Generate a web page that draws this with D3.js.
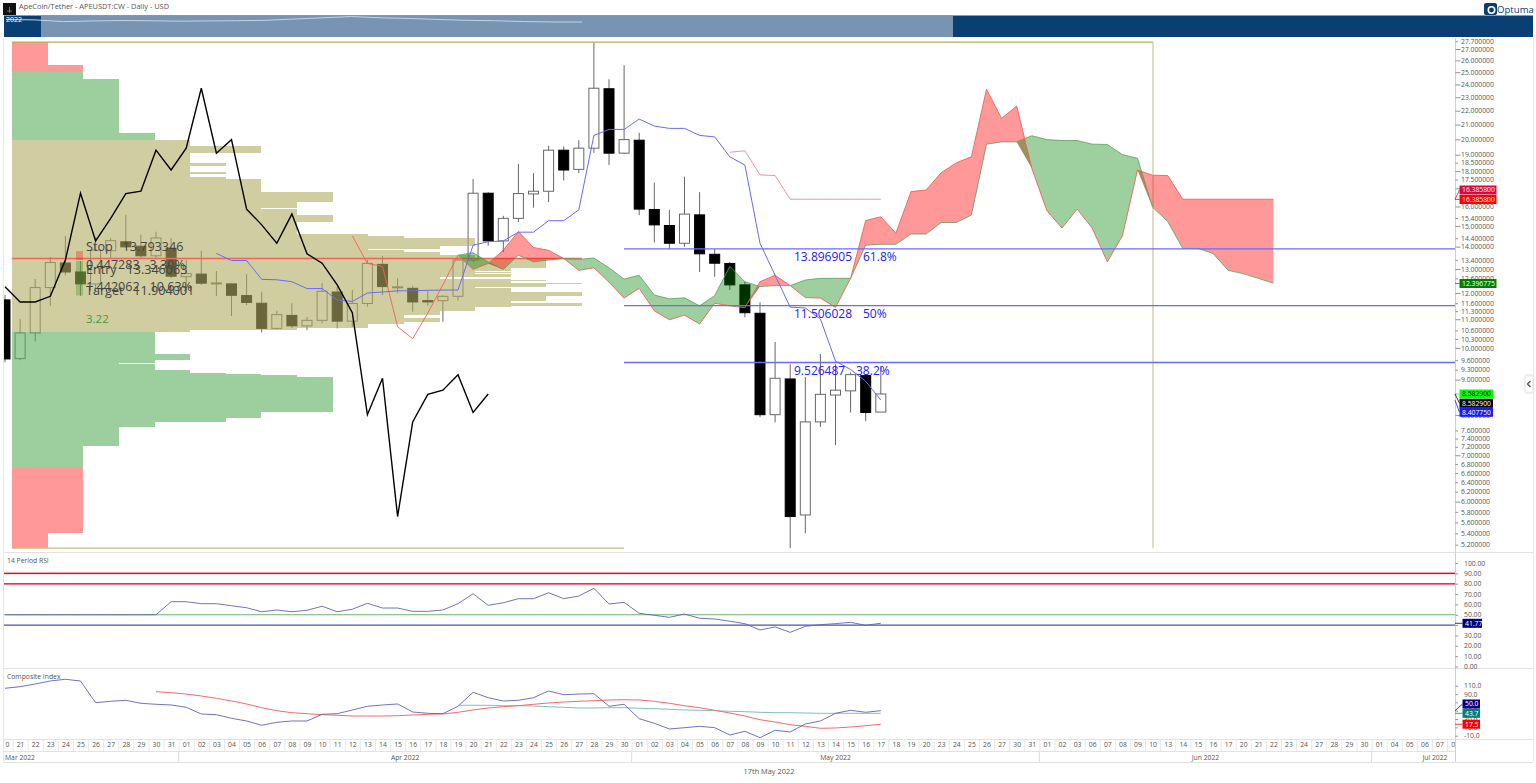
<!DOCTYPE html>
<html>
<head>
<meta charset="utf-8">
<script src="https://cdnjs.cloudflare.com/ajax/libs/d3/7.8.5/d3.min.js"></script>
<style>
  html, body { margin: 0; padding: 0; background: #fff; overflow: hidden; }
  text { font-family: "Open Sans", sans-serif; }
</style>
</head>
<body>
<div id="chart"></div>
<script>
// daily axis, weekends drop out after the last real bar (17 May)
let dateLabels = ["20","21","22","23","24","25","26","27","28","29","30","31",
  "01","02","03","04","05","06","07","08","09","10","11","12","13","14","15","16","17","18","19","20","21","22","23","24","25","26","27","28","29","30",
  "01","02","03","04","05","06","07","08","09","10","11","12","13","14","15","16","17","18","19","20","23","24","25","26","27","30","31",
  "01","02","03","06","07","08","09","10","13","14","15","16","17","20","21","22","23","24","27","28","29","30",
  "01","04","05","06","07","08"];
let monthLabels = ["Mar 2022", "Apr 2022", "May 2022", "Jun 2022", "Jul 2022"];
let monthLabelPos = [0, 26.5, 55, 79.5, 94.7];
let monthStarts = [11.5, 41.5, 68.5, 90.5];

let candleOpen = [11.73,9.65,10.51,12.22,13.26,12.87,12.37,13.81,14.23,14.02,13.58,13.93,12.67,12.78,12.38,12.37,11.90,11.60,10.67,11.14,10.76,10.96,12.04,10.93,11.59,13.20,12.22,12.19,11.70,11.70,11.87,13.39,16.72,14.27,15.38,16.68,16.83,19.29,18.10,19.42,23.66,19.10,19.94,15.84,15.02,14.16,15.56,13.65,13.24,12.33,11.22,8.01,9.02,5.74,7.82,8.55,8.67,9.12,8.08];
let candleHigh = [11.92,11.00,12.57,13.52,14.51,13.34,14.46,14.41,15.56,14.56,14.71,14.41,13.39,13.81,12.91,12.40,12.78,12.05,11.31,11.60,11.08,12.40,12.25,12.12,13.39,13.57,12.60,12.29,12.09,11.92,13.52,17.53,16.78,15.51,18.42,17.87,19.57,19.53,19.94,27.57,24.42,25.58,20.43,17.32,15.82,17.67,16.78,13.89,13.31,12.46,11.64,10.20,9.47,9.08,9.80,9.47,9.22,9.14,9.42];
let candleLow = [9.53,9.60,10.22,11.50,12.73,11.88,12.04,13.48,13.95,13.48,13.48,12.61,12.00,12.33,11.88,11.12,11.53,10.53,10.63,10.68,10.61,10.85,10.67,10.73,11.47,11.92,11.99,11.28,11.50,10.91,11.70,13.30,14.04,13.76,15.19,15.94,16.23,17.44,17.87,19.12,18.36,19.06,15.55,14.20,13.90,13.99,12.87,12.67,12.12,11.07,7.94,7.81,5.14,5.40,7.69,7.24,8.07,7.84,8.08];
let candleClose = [9.64,10.51,12.22,13.28,12.87,12.37,13.84,14.28,13.99,13.58,14.41,12.69,12.80,12.40,12.41,11.91,11.63,10.67,11.17,10.76,10.96,12.07,10.93,11.59,13.24,12.26,12.25,11.65,11.65,11.87,13.39,16.72,14.27,15.38,16.70,16.83,19.29,18.06,19.42,23.70,19.10,19.98,15.86,15.05,14.16,15.60,13.67,13.25,12.33,11.24,8.01,9.04,5.71,7.82,8.57,8.69,9.15,8.07,8.58];

// ichimoku, each list says which bar it starts on
let laggingStart = 0;
let laggingLine = [12.25,11.65,11.65,11.87,13.39,16.72,14.27,15.38,16.70,16.83,19.29,18.06,19.42,23.70,19.10,19.98,15.86,15.05,14.16,15.60,13.67,13.25,12.33,11.24,8.01,9.04,5.71,7.82,8.57,8.69,9.15,8.07,8.58];
let baseStart = 14;
let baseLine = [13.69,13.37,13.37,12.56,12.54,12.46,12.18,12.18,11.73,11.67,12.00,12.04,12.09,12.09,12.11,12.12,12.12,14.07,14.23,14.27,14.69,14.69,15.26,15.26,15.82,20.26,20.67,20.67,21.39,20.90,20.74,20.74,20.26,20.16,18.87,18.36,14.16,12.73,11.45,11.42,11.01,9.57,9.31,8.95,8.41];
let leadInStart = 23;
let leadInLine = [14.51,13.24,13.11,10.73,10.31,11.23,12.33,13.61];
let paleStart = 48;
let paleLine = [19.16,19.25,17.77,17.73,16.39,16.39,16.39,16.39,16.39,16.39,16.39];
let cloudStart = 30;
let spanA = [13.61,13.72,13.31,12.98,13.61,13.31,13.39,13.46,13.42,13.48,13.05,12.57,12.73,11.92,11.77,11.81,11.50,11.90,13.11,12.46,12.26,12.30,12.30,12.53,12.60,12.60,12.60,14.07,14.11,14.11,14.60,14.60,15.17,15.17,15.55,19.68,19.83,19.83,20.24,19.98,19.92,19.92,19.68,19.66,19.01,18.78,15.96,15.22,13.92,13.92,13.69,12.94,12.80,12.60,12.40];
let spanB = [13.61,12.98,13.24,13.84,14.72,13.96,13.83,13.46,12.94,13.05,12.44,11.80,12.19,11.31,10.98,11.15,10.83,11.60,11.50,11.43,12.46,12.73,12.30,11.82,11.80,11.44,12.60,15.27,15.46,14.64,16.81,16.90,17.90,18.50,18.87,23.62,21.44,22.34,18.16,15.78,14.89,15.86,14.89,13.31,14.51,18.06,17.75,17.73,16.39,16.39,16.39,16.39,16.39,16.39,16.39];

// volume profile: row edges from the top down, then bars per row and the zone of the row
let profileEdges = [27.63,25.58,25,24.44,20.43,19.94,19.59,19.12,18.47,18.32,17.96,17.84,17.67,17.53,17.42,16.81,16.23,15.91,15.84,15.56,15.19,14.60,14.51,14.41,14.04,13.89,13.83,13.75,13.61,13.46,13.04,12.90,12.86,12.81,12.77,12.65,12.57,12.52,12.49,12.41,12.36,12.26,12.20,12.05,12.03,11.87,11.69,11.62,11.50,11.47,11.32,11.26,11.15,11.03,10.91,10.82,10.70,10.68,10.62,10.54,10.53,9.81,9.60,9.51,9.48,9.29,9.21,9.17,9.14,9.09,8.07,7.92,7.82,7.68,7.22,6.71,5.40,5.14];
let profileCounts = [1,2,2,3,4,5,7,5,6,5,6,5,6,7,7,9,8,7,8,9,8,10,11,13,12,10,11,12,13,15,14,13,14,13,14,12,14,15,14,16,15,13,14,15,16,15,14,16,14,13,12,12,11,12,11,10,9,8,5,4,4,5,4,3,4,5,6,7,8,9,7,6,4,3,2,2,1];
let profileZones = ["r","r","g","g","g"].concat(Array(55).fill("t"), Array(15).fill("g"), ["r","r"]);
let pocPrice = 13.46;

let fibValues = [13.896905, 11.506028, 9.526487];
let fibLabels = ["13.896905", "11.506028", "9.526487"];
let fibPercents = ["61.8%", "50%", "38.2%"];
let stopPrice = 13.793346, entryPrice = 13.346063, targetPrice = 11.904001;

let priceTicks = [27.7,27,26,25,24,23,22,21,20,19,18.5,18,17.5,17,16,15.4,15,14.4,14,13.4,13,12.6,12,11.6,11.3,11,10.6,10.3,10,9.6,9.3,9,8,7.6,7.4,7.2,7,6.8,6.6,6.4,6.2,6,5.8,5.6,5.4,5.2];
let priceTags = [16.3858, 16.3858, 12.396775, 8.5829, 8.5829, 8.40775];
let priceTagText = ["16.385800", "16.385800", "12.396775", "8.582900", "8.582900", "8.407750"];

let rsiStart = 0;
let rsiValues = [50,50,50,50,50,50,50,50,50,50,50,62.6,62.6,60.7,60.7,58.7,56.8,52.9,54.6,52.9,54.3,58.2,52.9,55.3,61.1,56.5,56.5,53.3,53.3,54.6,60.7,70.3,59.1,61.6,65.5,65.5,71.3,65.5,68.1,75.6,60.4,62,51.4,49.5,47.5,50.7,46.6,45.9,43.7,41.4,35.3,38.2,33,38.8,40.4,41.4,42.7,39.8,41.77];
let rsiLevels = [90, 80, 50, 40];
let rsiTicks = [100,90,80,70,60,50,40,30,20,10,0];

let compositeValues = [103.8,107.6,114.1,121.3,125.4,121.3,69.2,72.6,75,67.8,65.4,63.7,58.2,42.1,40.4,31.8,25.3,15,22.2,25.3,25.3,41.4,42.8,51.7,60.6,63.7,66.1,46.9,43.8,42.8,60.6,94.2,81.2,73.3,75,81.2,97.3,88.4,90,90.8,60.6,65.4,30.8,19.8,6.1,9.2,12.6,9.2,-8.3,0.6,-14.8,3,-1.1,18.1,25.3,43.8,51,46.2,50];
let compFastStart = 10;
let compFast = [95.6,93.2,90,85.3,79.8,73.3,66.1,57.2,50,45.2,42.8,40.4,39,37.3,37.3,37.3,38,39.7,41.4,42.1,46.2,51.7,56.5,59.6,62,65.4,68.5,70.9,72.6,74,75.7,76.4,75.7,72.6,67.8,62,57.2,51,44.5,37.3,28.4,22.9,16.4,12.6,7.8,8.5,10.9,14,17.5];
let compSlowStart = 30;
let compSlow = [63,63,63,62,62,61.3,59.6,58.2,56.5,56.5,57.2,57.2,55.8,54.8,53.4,51.7,51,50,48.6,47.6,46.2,45.2,45.2,44.5,43.7,43.7,43.7,43.7,43.7];
let compTicks = [110,90,70,50,30,10,-10];

let navValues = [82,80,72,75,77,76,74,75,76,78,84,90,96,90,87,82,78,76,72,70,70];

let width = 1536, height = 783;
let plotLeft = 4, axisX = 1455;

let svg = d3.select("#chart").append("svg")
    .attr("width", width)
    .attr("height", height)
    .style("display", "block");

let x = d3.scaleLinear().domain([0, 96]).range([5, 5 + 15.1 * 96]);
let y = d3.scaleLog().domain([5.2, 27]).range([544.7, 49]);
let yRsi = d3.scaleLinear().domain([0, 100]).range([666.5, 563]);
let yComp = d3.scaleLinear().domain([-10, 110]).range([735.7, 685.7]);
let profileX = d3.scaleLinear().domain([0, 16]).range([12, 582]);

let defs = svg.append("defs");
defs.append("clipPath").attr("id", "mainClip").append("rect")
    .attr("x", plotLeft).attr("y", 38).attr("width", axisX - plotLeft).attr("height", 514);
defs.append("clipPath").attr("id", "dateClip").append("rect")
    .attr("x", 5.5).attr("y", 739).attr("width", axisX - 5.5).attr("height", 13);

// helper for lines that start part way along the bars
function lineFor(values, start, scale) {
    return d3.line().x((d, i) => x(i + start)).y(d => scale(d))(values);
}

// ---------- header ----------
svg.append("rect").attr("x", 3).attr("y", 3).attr("width", 13).attr("height", 12).attr("fill", "#111");
svg.append("path").attr("d", "M7 11h5M9.5 7v6").attr("stroke", "#888").attr("stroke-width", 0.8);
svg.append("text").attr("x", 19).attr("y", 8.5).attr("font-size", 7.4).attr("fill", "#555")
    .text("ApeCoin/Tether - APEUSDT:CW - Daily - USD");

svg.append("rect").attr("x", 4).attr("y", 15.5).attr("width", 1529).attr("height", 21.5).attr("fill", "#0a3f73");
svg.append("rect").attr("x", 41).attr("y", 15.5).attr("width", 912).attr("height", 21.5).attr("fill", "#7795b3");
let navX = d3.scaleLinear().domain([0, navValues.length - 1]).range([6, 582]);
let navY = d3.scaleLinear().domain([0, 100]).range([36.7, 15.7]);
svg.append("path")
    .attr("d", d3.line().x((d, i) => navX(i)).y(d => navY(d))(navValues))
    .attr("fill", "none").attr("stroke", "#c5d3e0").attr("stroke-width", 1);
svg.append("text").attr("x", 6).attr("y", 21.5).attr("font-size", 7).attr("fill", "#fff").text("2022");

svg.append("rect").attr("x", 1484).attr("y", 3).attr("width", 13).attr("height", 12).attr("rx", 2).attr("fill", "#0b3c6f");
svg.append("circle").attr("cx", 1491.5).attr("cy", 10).attr("r", 3.2).attr("fill", "none").attr("stroke", "#fff").attr("stroke-width", 1.6);
svg.append("text").attr("x", 1497).attr("y", 13).attr("font-size", 9.6).attr("fill", "#0b3c6f").text("Optuma");

// ---------- main panel ----------
let main = svg.append("g").attr("clip-path", "url(#mainClip)");

let candles = main.append("g").selectAll("g")
    .data(candleOpen.map((o, i) => ({ i: i, o: o, h: candleHigh[i], l: candleLow[i], c: candleClose[i] })))
    .enter().append("g");
candles.append("line")
    .attr("x1", d => x(d.i)).attr("x2", d => x(d.i))
    .attr("y1", d => y(d.h)).attr("y2", d => y(d.l))
    .attr("stroke", "#666").attr("stroke-width", 1);
candles.append("rect")
    .attr("x", d => x(d.i) - 5)
    .attr("width", 10)
    .attr("y", d => y(Math.max(d.o, d.c)))
    .attr("height", d => Math.max(1, Math.abs(y(d.o) - y(d.c))))
    .attr("fill", d => d.c >= d.o ? "#fff" : "#000")
    .attr("stroke", d => d.c >= d.o ? "#666" : "#000")
    .attr("stroke-width", 1);

// volume profile goes over the candles
let zoneColor = { r: "#ff5555", g: "#5daf5d", t: "#b2ac62" };
main.append("g").attr("opacity", 0.6).selectAll("rect")
    .data(profileCounts)
    .enter().append("rect")
    .attr("x", profileX(0))
    .attr("width", d => profileX(d) - profileX(0))
    .attr("y", (d, i) => y(profileEdges[i]))
    .attr("height", (d, i) => y(profileEdges[i + 1]) - y(profileEdges[i]))
    .attr("fill", (d, i) => zoneColor[profileZones[i]])
    .attr("shape-rendering", "crispEdges");

// box round the profile range
main.append("path")
    .attr("d", `M${profileX(0)},${y(profileEdges[0])}H1153`)
    .attr("stroke", "#b5ae4c").attr("stroke-width", 1.2).attr("fill", "none");
main.append("path")
    .attr("d", `M1153,${y(profileEdges[0])}V${y(profileEdges[profileEdges.length - 1])}`)
    .attr("stroke", "#c9c78f").attr("stroke-width", 1.2).attr("fill", "none");
main.append("path")
    .attr("d", `M${profileX(0)},${y(profileEdges[profileEdges.length - 1])}H624`)
    .attr("stroke", "#c4bf77").attr("stroke-width", 1.2).attr("fill", "none");

main.append("line")
    .attr("x1", profileX(0)).attr("x2", profileX(16))
    .attr("y1", y(pocPrice)).attr("y2", y(pocPrice))
    .attr("stroke", "#f0645a").attr("stroke-width", 1.4);

// cloud: each run of one colour also takes the next and previous point on its top edge,
// which gives the small overlap wedges where the spans cross
let cloudPoint = d3.line().x(d => x(d[0])).y(d => y(d[1]));
function cloudRuns() {
    let isGreen = spanA.map((a, i) => a >= spanB[i]);
    let runs = [], s = 0;
    for (let i = 1; i <= isGreen.length; i++) {
        if (i == isGreen.length || isGreen[i] != isGreen[s]) {
            runs.push({ s: s, e: i - 1, green: isGreen[s] });
            s = i;
        }
    }
    return runs;
}
main.append("g").selectAll("path")
    .data(cloudRuns())
    .enter().append("path")
    .attr("d", r => {
        let upper = r.green ? spanA : spanB;
        let lower = r.green ? spanB : spanA;
        let pts = [];
        for (let i = Math.max(r.s - 1, 0); i <= Math.min(r.e + 1, upper.length - 1); i++) pts.push([i + cloudStart, upper[i]]);
        for (let i = r.e; i >= r.s; i--) pts.push([i + cloudStart, lower[i]]);
        return cloudPoint(pts) + "Z";
    })
    .attr("fill", r => r.green ? "#008000" : "#ff0000")
    .attr("fill-opacity", r => r.green ? 0.38 : 0.4);
main.append("path").attr("d", lineFor(spanA, cloudStart, y))
    .attr("fill", "none").attr("stroke", "#5aa05a").attr("stroke-width", 0.8);
main.append("path").attr("d", lineFor(spanB, cloudStart, y))
    .attr("fill", "none").attr("stroke", "#f0605a").attr("stroke-width", 0.9);
main.append("path").attr("d", lineFor(leadInLine, leadInStart, y))
    .attr("fill", "none").attr("stroke", "#f0605a").attr("stroke-width", 0.9);
main.append("path").attr("d", lineFor(paleLine, paleStart, y))
    .attr("fill", "none").attr("stroke", "#f58f96").attr("stroke-width", 1);
main.append("path").attr("d", lineFor(baseLine, baseStart, y))
    .attr("fill", "none").attr("stroke", "#6a6af5").attr("stroke-width", 1);
main.append("path").attr("d", lineFor(laggingLine, laggingStart, y))
    .attr("fill", "none").attr("stroke", "#000").attr("stroke-width", 1.4);

// fibonacci levels
main.selectAll(".fib").data(fibValues).enter().append("line")
    .attr("x1", 624).attr("x2", axisX)
    .attr("y1", d => y(d)).attr("y2", d => y(d))
    .attr("stroke", "#6a6aff").attr("stroke-width", 1.3);
main.selectAll(".fibVal").data(fibValues).enter().append("text")
    .attr("x", 794).attr("y", d => y(d) + 12)
    .attr("font-size", 12).attr("fill", "#2020ff")
    .text((d, i) => fibLabels[i]);
main.selectAll(".fibPct").data(fibValues).enter().append("text")
    .attr("x", (d, i) => i == 2 ? 856 : 863).attr("y", d => y(d) + 12)
    .attr("font-size", 12).attr("fill", "#2020ff")
    .text((d, i) => fibPercents[i]);

// risk / reward marker and its text
main.append("rect").attr("x", 76).attr("width", 7)
    .attr("y", y(stopPrice)).attr("height", y(entryPrice) - y(stopPrice) - 1)
    .attr("fill", "#ff0000").attr("fill-opacity", 0.3);
main.append("rect").attr("x", 76).attr("width", 7)
    .attr("y", y(entryPrice)).attr("height", y(targetPrice) - y(entryPrice))
    .attr("fill", "#008000").attr("fill-opacity", 0.25);
let rrText = [
    ["Stop   13.793346", 250.5, "#444"],
    ["0.447283   3.30%", 268.5, "#444"],
    ["Entry   13.346063", 273.5, "#444"],
    ["1.442062   10.63%", 290.5, "#444"],
    ["Target   11.904001", 295, "#444"],
    ["3.22", 323, "#3aa03a"]
];
main.selectAll(".rr").data(rrText).enter().append("text")
    .attr("x", 86).attr("y", d => d[1])
    .attr("font-size", (d, i) => i == 5 ? 11.5 : 12.6)
    .attr("fill", d => d[2])
    .attr("xml:space", "preserve").style("white-space", "pre")
    .text(d => d[0]);

// ---------- rsi panel ----------
let levelColor = ["#d0103a", "#c8103a", "#6db36d", "#5050b0"];
let rsi = svg.append("g");
rsi.append("line").attr("x1", plotLeft).attr("x2", axisX).attr("y1", yRsi(90)).attr("y2", yRsi(90)).attr("stroke", "#fbd5d5").attr("stroke-width", 3);
rsi.append("line").attr("x1", plotLeft).attr("x2", axisX).attr("y1", yRsi(80) + 0.6).attr("y2", yRsi(80) + 0.6).attr("stroke", "#f7a0a8").attr("stroke-width", 2);
rsi.selectAll(".level").data(rsiLevels).enter().append("line")
    .attr("x1", plotLeft).attr("x2", axisX)
    .attr("y1", d => yRsi(d)).attr("y2", d => yRsi(d))
    .attr("stroke", (d, i) => levelColor[i]).attr("stroke-width", 1.1);
rsi.append("path").attr("d", lineFor(rsiValues, rsiStart, yRsi))
    .attr("fill", "none").attr("stroke", "#6262b8").attr("stroke-width", 0.9);
rsi.append("text").attr("x", 7).attr("y", 562.5).attr("font-size", 6.8).attr("fill", "#555").text("14 Period RSI");

// ---------- composite index panel ----------
let comp = svg.append("g");
comp.append("path").attr("d", lineFor(compSlow, compSlowStart, yComp))
    .attr("fill", "none").attr("stroke", "#6fb9b2").attr("stroke-width", 0.9);
comp.append("path").attr("d", lineFor(compFast, compFastStart, yComp))
    .attr("fill", "none").attr("stroke", "#f56a6a").attr("stroke-width", 1);
comp.append("path").attr("d", lineFor(compositeValues, 0, yComp))
    .attr("fill", "none").attr("stroke", "#6262b8").attr("stroke-width", 0.9);
comp.append("text").attr("x", 7).attr("y", 679).attr("font-size", 6.8).attr("fill", "#555").text("Composite Index");

// ---------- frame and separators ----------
let separators = [[plotLeft, 552.5, 1533, 552.5], [plotLeft, 668.5, 1533, 668.5], [plotLeft, 739.5, 1533, 739.5], [plotLeft, 751.5, axisX, 751.5], [plotLeft, 762.5, 1533, 762.5]];
svg.append("g").selectAll("line").data(separators).enter().append("line")
    .attr("x1", d => d[0]).attr("y1", d => d[1]).attr("x2", d => d[2]).attr("y2", d => d[3])
    .attr("stroke", "#e2e2e2").attr("stroke-width", 1);
svg.append("line").attr("x1", 3.5).attr("x2", 3.5).attr("y1", 38).attr("y2", 762).attr("stroke", "#e8e8e8");
svg.append("line").attr("x1", 1533.5).attr("x2", 1533.5).attr("y1", 38).attr("y2", 762).attr("stroke", "#e8e8e8");
svg.append("line").attr("x1", axisX + 0.5).attr("x2", axisX + 0.5).attr("y1", 38).attr("y2", 762).attr("stroke", "#cfcfcf");

// ---------- axes ----------
function styleAxis(g, size, color) {
    g.select(".domain").remove();
    g.selectAll("text").attr("font-size", size).attr("fill", color).style("font-family", '"Open Sans", sans-serif');
    g.selectAll("line").attr("stroke", "#777").attr("stroke-width", 0.8);
}

let priceAxis = svg.append("g").attr("transform", `translate(${axisX + 0.5},0)`)
    .call(d3.axisRight(y).tickValues(priceTicks).tickFormat(d => d.toFixed(6)).tickSize(2.5).tickPadding(3));
styleAxis(priceAxis, 6.8, "#555");
priceAxis.selectAll("line").attr("x2", d => Number.isInteger(d) ? 5 : 2.5);

let rsiAxis = svg.append("g").attr("transform", `translate(${axisX + 0.5},0)`)
    .call(d3.axisRight(yRsi).tickValues(rsiTicks).tickFormat(d => d.toFixed(2)).tickSize(2.5).tickPadding(6));
styleAxis(rsiAxis, 6.8, "#555");

let compAxis = svg.append("g").attr("transform", `translate(${axisX + 0.5},0)`)
    .call(d3.axisRight(yComp).tickValues(compTicks).tickFormat(d => d.toFixed(1)).tickSize(2.5).tickPadding(6));
styleAxis(compAxis, 6.8, "#555");

let dateAxis = svg.append("g").attr("clip-path", "url(#dateClip)").append("g")
    .attr("transform", "translate(0,739)")
    .call(d3.axisBottom(x).tickValues(d3.range(dateLabels.length)).tickFormat(i => dateLabels[i]).tickSize(0).tickPadding(3.5));
styleAxis(dateAxis, 6.8, "#555");
dateAxis.selectAll(".tick").append("line")
    .attr("x1", 7.55).attr("x2", 7.55).attr("y1", 0).attr("y2", 12)
    .attr("stroke", "#e8e8e8").attr("stroke-width", 1);

svg.append("g").selectAll("line").data(monthStarts).enter().append("line")
    .attr("x1", d => x(d)).attr("x2", d => x(d)).attr("y1", 751).attr("y2", 762)
    .attr("stroke", "#dcdcdc");
svg.append("g").selectAll("text").data(monthLabels).enter().append("text")
    .attr("x", (d, i) => x(monthLabelPos[i]))
    .attr("y", 759.6)
    .attr("text-anchor", (d, i) => i == 0 ? "start" : "middle")
    .attr("font-size", 6.8).attr("fill", "#555")
    .text(d => d);
svg.append("text").attr("x", 769).attr("y", 773.5).attr("text-anchor", "middle")
    .attr("font-size", 7.4).attr("fill", "#555").text("17th May 2022");

// ---------- value tags on the axes ----------
function addTags(values, labels, tagY, fills, textFills, boxX, boxW, scale) {
    let g = svg.append("g");
    g.selectAll("path").data(values).enter().append("path")
        .attr("d", (d, i) => `M${axisX},${scale(d)}L${boxX},${tagY[i]}`)
        .attr("stroke", (d, i) => fills[i]).attr("stroke-width", 0.8).attr("fill", "none");
    g.selectAll("rect").data(values).enter().append("rect")
        .attr("x", boxX).attr("width", (d, i) => boxW[i])
        .attr("y", (d, i) => tagY[i] - 4.5).attr("height", 9)
        .attr("fill", (d, i) => fills[i]);
    g.selectAll("text").data(values).enter().append("text")
        .attr("x", boxX + 2.5).attr("y", (d, i) => tagY[i] + 2.4)
        .attr("font-size", 6.8).attr("fill", (d, i) => textFills[i])
        .text((d, i) => labels[i]);
}
addTags(priceTags, priceTagText, [190, 199.5, 283.5, 394, 403.3, 412.3],
    ["#d9083f", "#ff0000", "#008000", "#00ff00", "#000000", "#1a1aff"],
    ["#fff", "#fff", "#fff", "#000", "#fff", "#fff"],
    1459.5, [37, 37, 37, 33.5, 33.5, 33.5], y);
addTags([41.77], ["41.77"], [623.3], ["#000080"], ["#fff"], 1462.5, [19.5], yRsi);
addTags([50, 43.7, 17.5], ["50.0", "43.7", "17.5"], [704, 713.3, 724.2],
    ["#000080", "#008080", "#ff0000"], ["#fff", "#fff", "#fff"], 1462.5, [17.5, 17.5, 17.5], yComp);

// collapse handle on the right edge
svg.append("rect").attr("x", 1525).attr("y", 375).attr("width", 8).attr("height", 18).attr("rx", 1.5)
    .attr("fill", "#fff").attr("stroke", "#dddddd");
svg.append("path").attr("d", "M1530.5,381L1527.5,384L1530.5,387").attr("fill", "none").attr("stroke", "#555").attr("stroke-width", 1.4);
</script>
</body>
</html>
